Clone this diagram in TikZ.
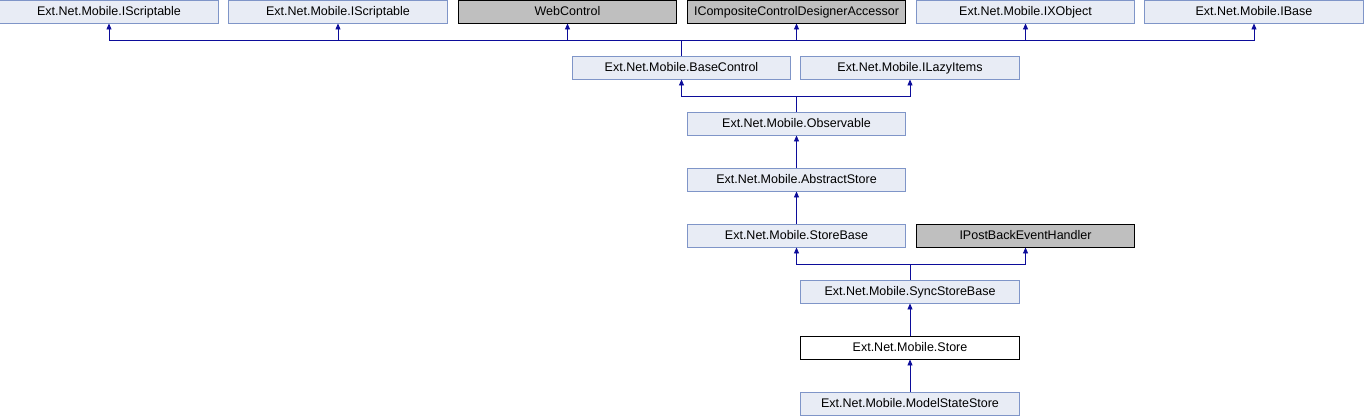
\documentclass[tikz,border=0pt]{standalone}
\usepackage{fontspec}
\setmainfont{Liberation Sans}
\usetikzlibrary{arrows.meta}
\definecolor{boxfill}{HTML}{E8ECF5}
\definecolor{boxline}{HTML}{7F95C8}
\definecolor{extfill}{HTML}{BFBFBF}
\definecolor{edgecol}{HTML}{0C0C9A}
\tikzset{
  cls/.style={draw=boxline, fill=boxfill, line width=0.9pt, minimum width=218.5pt, minimum height=23pt, inner sep=0pt, text height=9pt, text depth=2pt, font=\fontsize{12.5}{14}\selectfont},
  ext/.style={cls, draw=black, fill=extfill},
  cur/.style={cls, draw=black, fill=white},
  edge/.style={draw=edgecol, line width=0.9pt},
  arr/.style={edge, -{Triangle[length=6pt,width=5pt]}},
}
\begin{document}
\begin{tikzpicture}[x=1pt,y=-1pt]
\useasboundingbox (0,0) rectangle (1364,416);
% row 0
\node[cls] (isc1) at (109,11.5) {Ext.Net.Mobile.IScriptable};
\node[cls] (isc2) at (338,11.5) {Ext.Net.Mobile.IScriptable};
\node[ext] (web) at (567.5,11.5) {WebControl};
\node[ext] (icc) at (796.5,11.5) {ICompositeControlDesignerAccessor};
\node[cls] (ixo) at (1025.5,11.5) {Ext.Net.Mobile.IXObject};
\node[cls] (ibase) at (1254,11.5) {Ext.Net.Mobile.IBase};
% row 1
\node[cls] (bc) at (681.5,67.5) {Ext.Net.Mobile.BaseControl};
\node[cls] (ilazy) at (910,67.5) {Ext.Net.Mobile.ILazyItems};
% rows 2..7
\node[cls] (obs) at (796.5,123.5) {Ext.Net.Mobile.Observable};
\node[cls] (abs) at (796.5,179.5) {Ext.Net.Mobile.AbstractStore};
\node[cls] (sb) at (796.5,235.5) {Ext.Net.Mobile.StoreBase};
\node[ext] (ipb) at (1025.5,235.5) {IPostBackEventHandler};
\node[cls] (ssb) at (910,291.5) {Ext.Net.Mobile.SyncStoreBase};
\node[cur] (store) at (910,347.5) {Ext.Net.Mobile.Store};
\node[cls] (mss) at (910,403.5) {Ext.Net.Mobile.ModelStateStore};
% junctions
\coordinate (j0) at (681.5,40);
\coordinate (j1) at (796.5,96);
\coordinate (j4) at (910,264);
% BaseControl parents
\draw[edge] (bc.north) -- (j0);
\foreach \p in {isc1,isc2,web,icc,ixo,ibase}
  \draw[arr] (j0) -| (\p.south);
% Observable parents
\draw[edge] (obs.north) -- (j1);
\foreach \p in {bc,ilazy}
  \draw[arr] (j1) -| (\p.south);
% chain
\draw[arr] (abs.north) -- (obs.south);
\draw[arr] (sb.north) -- (abs.south);
% SyncStoreBase parents
\draw[edge] (ssb.north) -- (j4);
\foreach \p in {sb,ipb}
  \draw[arr] (j4) -| (\p.south);
\draw[arr] (store.north) -- (ssb.south);
\draw[arr] (mss.north) -- (store.south);
\end{tikzpicture}
\end{document}
